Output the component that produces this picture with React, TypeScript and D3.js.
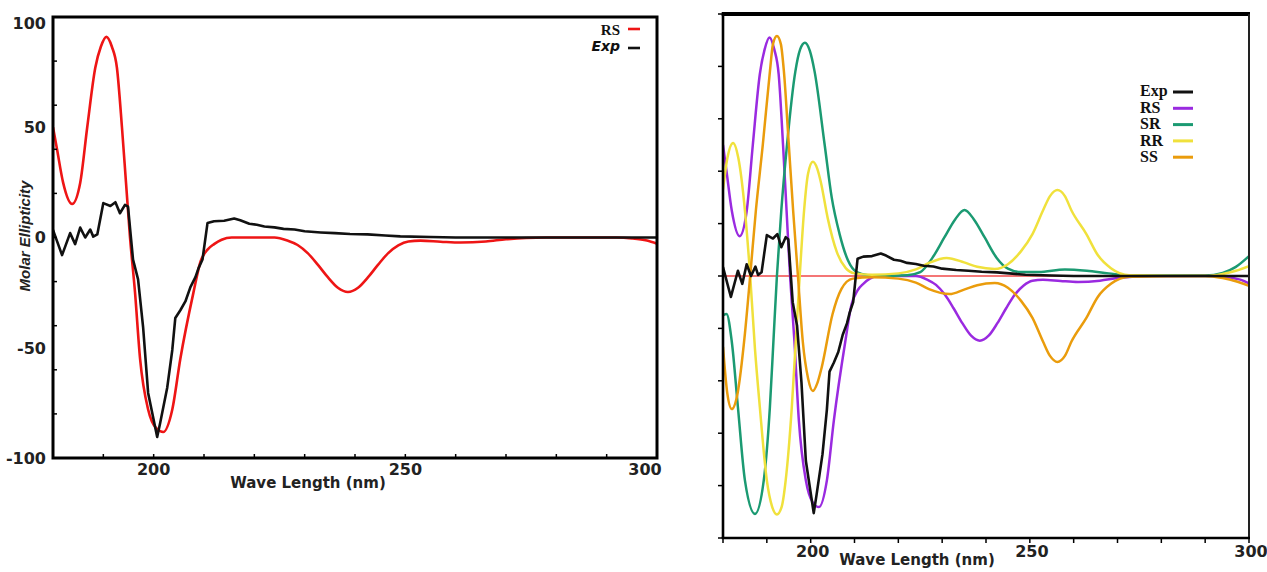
import * as d3 from 'd3';

// wavelength (nm), molar ellipticity
const exp: [number, number][] = [
  [180, 3.4], [181.8, -8], [183.4, 2], [184.4, -3], [185.4, 4.5], [186.4, 0], [187.4, 3.6],
  [188, 0.4], [188.8, 1.4], [190, 15.6], [191.4, 14.3], [192.4, 16], [193.3, 11], [194.3, 14.8],
  [194.9, 14], [195.9, -10], [196.9, -19], [197.9, -40.6], [198.9, -70.5], [200.7, -90.5],
  [201.3, -84], [202.7, -68], [203.7, -51], [204.3, -36.5], [205.3, -33], [206.3, -29],
  [207.3, -22.5], [208.3, -18], [208.9, -14], [209.7, -10], [210.7, 6.6], [212, 7.4], [214, 7.6],
  [216, 8.6], [217.2, 7.8], [219, 6.2], [220.5, 5.8], [222, 5.0], [224, 4.6], [225.8, 3.9],
  [228, 3.6], [230, 2.8], [233.2, 2.3], [236, 2.0], [239, 1.6], [242.5, 1.4], [246, 0.9],
  [249, 0.5], [255, 0.2], [260, 0], [300, 0],
];

const rs: [number, number][] = [
  [180, 50], [180.8, 40], [182, 25], [183.8, 15.2], [185.4, 24.7], [186.8, 50], [188.4, 77],
  [189.5, 86.5], [190.6, 91], [191.7, 86.5], [192.7, 77], [193.7, 50], [194.5, 25], [195.3, 0],
  [196.3, -25], [197.3, -55], [198.9, -78], [200.5, -86.5], [201.9, -88.2], [203.7, -78],
  [205.3, -55], [207.9, -25], [209.3, -11], [210.7, -5.5], [212, -3], [213.5, -1], [215.5, 0],
  [224, 0], [226.6, -1.4], [228.6, -3.4], [230.6, -7.1], [232.6, -12.3], [234.6, -18],
  [236.6, -22.8], [238.6, -24.7], [240.6, -22.8], [242.6, -18], [244.6, -12.3], [246.6, -7.1],
  [248.6, -3.6], [250.6, -1.8], [253, -1.4], [257, -1.9], [261, -2.3], [266, -1.8], [270, -0.8],
  [274, -0.2], [278, 0], [292, 0], [295, -0.4], [298, -1.4], [300, -2.8],
];

const sr: [number, number][] = [
  [180, -15], [180.8, -14.5], [182, -25], [183.4, -50], [185, -78], [187.3, -90.8], [189.3, -78],
  [190.7, -50], [191.5, -25], [192.3, 0], [193.3, 25], [194.6, 50], [196.5, 78], [197.6, 86.5],
  [198.7, 89], [199.8, 86], [200.9, 78], [203.2, 50], [204.8, 30], [206.6, 16], [208.5, 6],
  [210.5, 1.5], [213, 0.3], [216, 0], [222, 0.3], [225, 1.5], [227.8, 7], [230.5, 14.7],
  [233, 21.7], [235.1, 25.2], [237.2, 21.7], [239.7, 14.7], [242.4, 7], [245, 2.8], [248, 1.5],
  [252, 1.5], [258, 2.5], [263, 2], [268, 1], [273, 0.2], [290, 0.2], [294, 1.2], [297, 3.5],
  [300, 7.6],
];

const rr: [number, number][] = [
  [180, 33], [181, 45], [182.3, 50.8], [183.5, 45], [185, 25], [186.2, 0], [187.3, -28],
  [188.4, -50], [190, -78], [191.2, -88], [192.3, -91], [193.4, -88], [194.3, -78], [195.7, -50],
  [196.6, -25], [197.5, 0], [198.5, 25], [199.4, 39], [200.5, 43.6], [201.5, 41], [202.3, 36],
  [203.9, 22], [206, 9], [208, 3], [210, 1], [214, 0.5], [220, 1], [224, 2.5], [227, 5],
  [231, 6.9], [235, 5.2], [238, 3.5], [242, 2.7], [245, 4.5], [248, 9.5], [250.6, 16], [253, 25],
  [254.6, 30.5], [256.3, 32.8], [258, 30.5], [259.5, 25], [262.9, 16], [265.5, 8], [268.5, 3],
  [272.7, 0.3], [290, 0], [294, 0.8], [297, 2], [300, 3.8],
];

const ss: [number, number][] = [
  [180, -27], [181, -45], [182, -50.8], [183.3, -45], [185, -22], [186.2, 0], [187.5, 25],
  [189.1, 50.4], [190.7, 78], [191.4, 88.5], [192.3, 91.6], [193.2, 88.5], [193.9, 78],
  [195, 50.4], [196, 25], [197.1, 0], [198.2, -25], [199.4, -39], [200.5, -43.9], [201.5, -41],
  [202.5, -35], [205, -14.5], [207, -5], [209.6, -1], [214, -0.5], [220, -1], [224, -2.5],
  [227, -5], [231.7, -6.9], [235, -5.2], [238, -3.5], [242, -2.7], [245, -4.5], [248, -9.5],
  [250.6, -16], [253, -25], [254.6, -30.5], [256.3, -32.8], [258, -30.5], [259.5, -25],
  [262.9, -16], [265.5, -8], [268.5, -3], [272.7, -0.3], [290, 0], [294, -0.8], [297, -2],
  [300, -3.8],
];

const leftLegend = ['RS', 'Exp'];
const rightLegend = ['Exp', 'RS', 'SR', 'RR', 'SS'];
const rightColors = ['#111111', '#9a2ae0', '#1b9a72', '#f0e13c', '#ea9c0c'];
const rightSeries = [exp, rs, sr, rr, ss];

const SANS = 'DejaVu Sans, sans-serif';
const SERIF = 'Liberation Serif, Times New Roman, serif';

export default function App() {
  const W = 1267;
  const H = 572;

  // left panel
  const xL = d3.scaleLinear().domain([180, 300]).range([53, 657]);
  const yL = d3.scaleLinear().domain([-100, 100]).range([458, 17]);
  // right panel
  const xR = d3.scaleLinear().domain([180, 300]).range([723, 1249]);
  const yR = d3.scaleLinear().domain([-100, 100]).range([538, 14]);

  const smooth = (x, y) =>
    d3.line<[number, number]>().x((d) => x(d[0])).y((d) => y(d[1])).curve(d3.curveMonotoneX);
  const jagged = (x, y) =>
    d3.line<[number, number]>().x((d) => x(d[0])).y((d) => y(d[1]));

  const smoothL = smooth(xL, yL);
  const jaggedL = jagged(xL, yL);
  const smoothR = smooth(xR, yR);
  const jaggedR = jagged(xR, yR);

  return (
    <svg width={W} height={H} style={{ position: 'absolute', left: 0, top: 0, background: '#fff' }}>
      <defs>
        <clipPath id="clipL">
          <rect x={53} y={17} width={604} height={441} />
        </clipPath>
        <clipPath id="clipR">
          <rect x={723} y={14} width={526} height={524} />
        </clipPath>
      </defs>

      {/* ---------- left panel ---------- */}
      <g clipPath="url(#clipL)">
        <path d={smoothL(rs)} fill="none" stroke="#ee1515" strokeWidth={2.6} />
        <path d={jaggedL(exp)} fill="none" stroke="#111" strokeWidth={2.6} strokeLinejoin="round" />
      </g>
      <rect x={53} y={17} width={604} height={441} fill="none" stroke="#000" strokeWidth={3} />

      {xL.ticks(12).map((t) => (
        <line key={'lxt' + t} x1={xL(t)} x2={xL(t)} y1={458} y2={454} stroke="#000" strokeWidth={1.5} />
      ))}
      {yL.ticks(8).map((t) => (
        <line key={'lyt' + t} x1={53} x2={57} y1={yL(t)} y2={yL(t)} stroke="#000" strokeWidth={1.5} />
      ))}
      {xL.ticks(3).map((t) => (
        <text key={'lxl' + t} x={Math.min(xL(t), 645)} y={475} textAnchor="middle"
          fontFamily={SANS} fontWeight="bold" fontSize={16} fill="#222">{t}</text>
      ))}
      {yL.ticks(4).map((t) => (
        <text key={'lyl' + t} x={46} y={Math.max(yL(t), 23)} dy="0.36em" textAnchor="end"
          fontFamily={SANS} fontWeight="bold" fontSize={16} fill="#222">{t}</text>
      ))}
      <text x={308} y={488} textAnchor="middle" fontFamily={SANS} fontWeight="bold" fontSize={15} fill="#222">
        Wave Length (nm)
      </text>
      <text transform="translate(30,236) rotate(-90)" textAnchor="middle"
        fontFamily="Liberation Sans, Arial, sans-serif" fontWeight="bold" fontStyle="italic" fontSize={15} fill="#222">
        Molar Ellipticity
      </text>

      {leftLegend.map((name, i) => (
        <g key={'ll' + name}>
          <text x={620} y={35 + i * 16} textAnchor="end"
            fontFamily={i === 0 ? SERIF : SANS} fontWeight="bold" fontStyle={i === 0 ? 'normal' : 'italic'}
            fontSize={i === 0 ? 15 : 14} fill="#111">{name}</text>
          <line x1={628} x2={640} y1={29 + i * 19} y2={29 + i * 19}
            stroke={i === 0 ? '#ee1515' : '#111'} strokeWidth={2.6} />
        </g>
      ))}

      {/* ---------- right panel ---------- */}
      <g clipPath="url(#clipR)">
        <line x1={723} x2={1249} y1={yR(0)} y2={yR(0)} stroke="#f04848" strokeWidth={1.5} />
        {[1, 2, 3, 4].map((k) => (
          <path key={'rs' + k} d={smoothR(rightSeries[k])} fill="none" stroke={rightColors[k]} strokeWidth={2.5} />
        ))}
        <path d={jaggedR(exp)} fill="none" stroke="#111" strokeWidth={2.6} strokeLinejoin="round" />
      </g>
      <line x1={723} x2={723} y1={14} y2={538} stroke="#000" strokeWidth={2.6} />
      <line x1={721.7} x2={1250} y1={14} y2={14} stroke="#000" strokeWidth={4} />
      <line x1={1249} x2={1249} y1={14} y2={538} stroke="#222" strokeWidth={2} />
      <line x1={721.7} x2={1250} y1={538} y2={538} stroke="#000" strokeWidth={2.6} />

      {xR.ticks(12).map((t) => (
        <line key={'rxt' + t} x1={xR(t)} x2={xR(t)} y1={538} y2={543} stroke="#000" strokeWidth={1.5} />
      ))}
      {yR.ticks(8).map((t) => (
        <line key={'ryt' + t} x1={718} x2={723} y1={yR(t)} y2={yR(t)} stroke="#000" strokeWidth={1.5} />
      ))}
      {xR.ticks(3).map((t) => (
        <text key={'rxl' + t} x={xR(t) + 2} y={557} textAnchor="middle"
          fontFamily={SANS} fontWeight="bold" fontSize={16} fill="#222">{t}</text>
      ))}
      <text x={917} y={565} textAnchor="middle" fontFamily={SANS} fontWeight="bold" fontSize={15} fill="#222">
        Wave Length (nm)
      </text>

      {rightLegend.map((name, i) => (
        <g key={'rl' + name}>
          <text x={1140} y={96 + i * 16.5} fontFamily={SERIF} fontWeight="bold" fontSize={16} fill="#111">
            {name}
          </text>
          <line x1={1173} x2={1193} y1={92 + i * 16.3} y2={92 + i * 16.3}
            stroke={rightColors[i]} strokeWidth={3} />
        </g>
      ))}
    </svg>
  );
}
